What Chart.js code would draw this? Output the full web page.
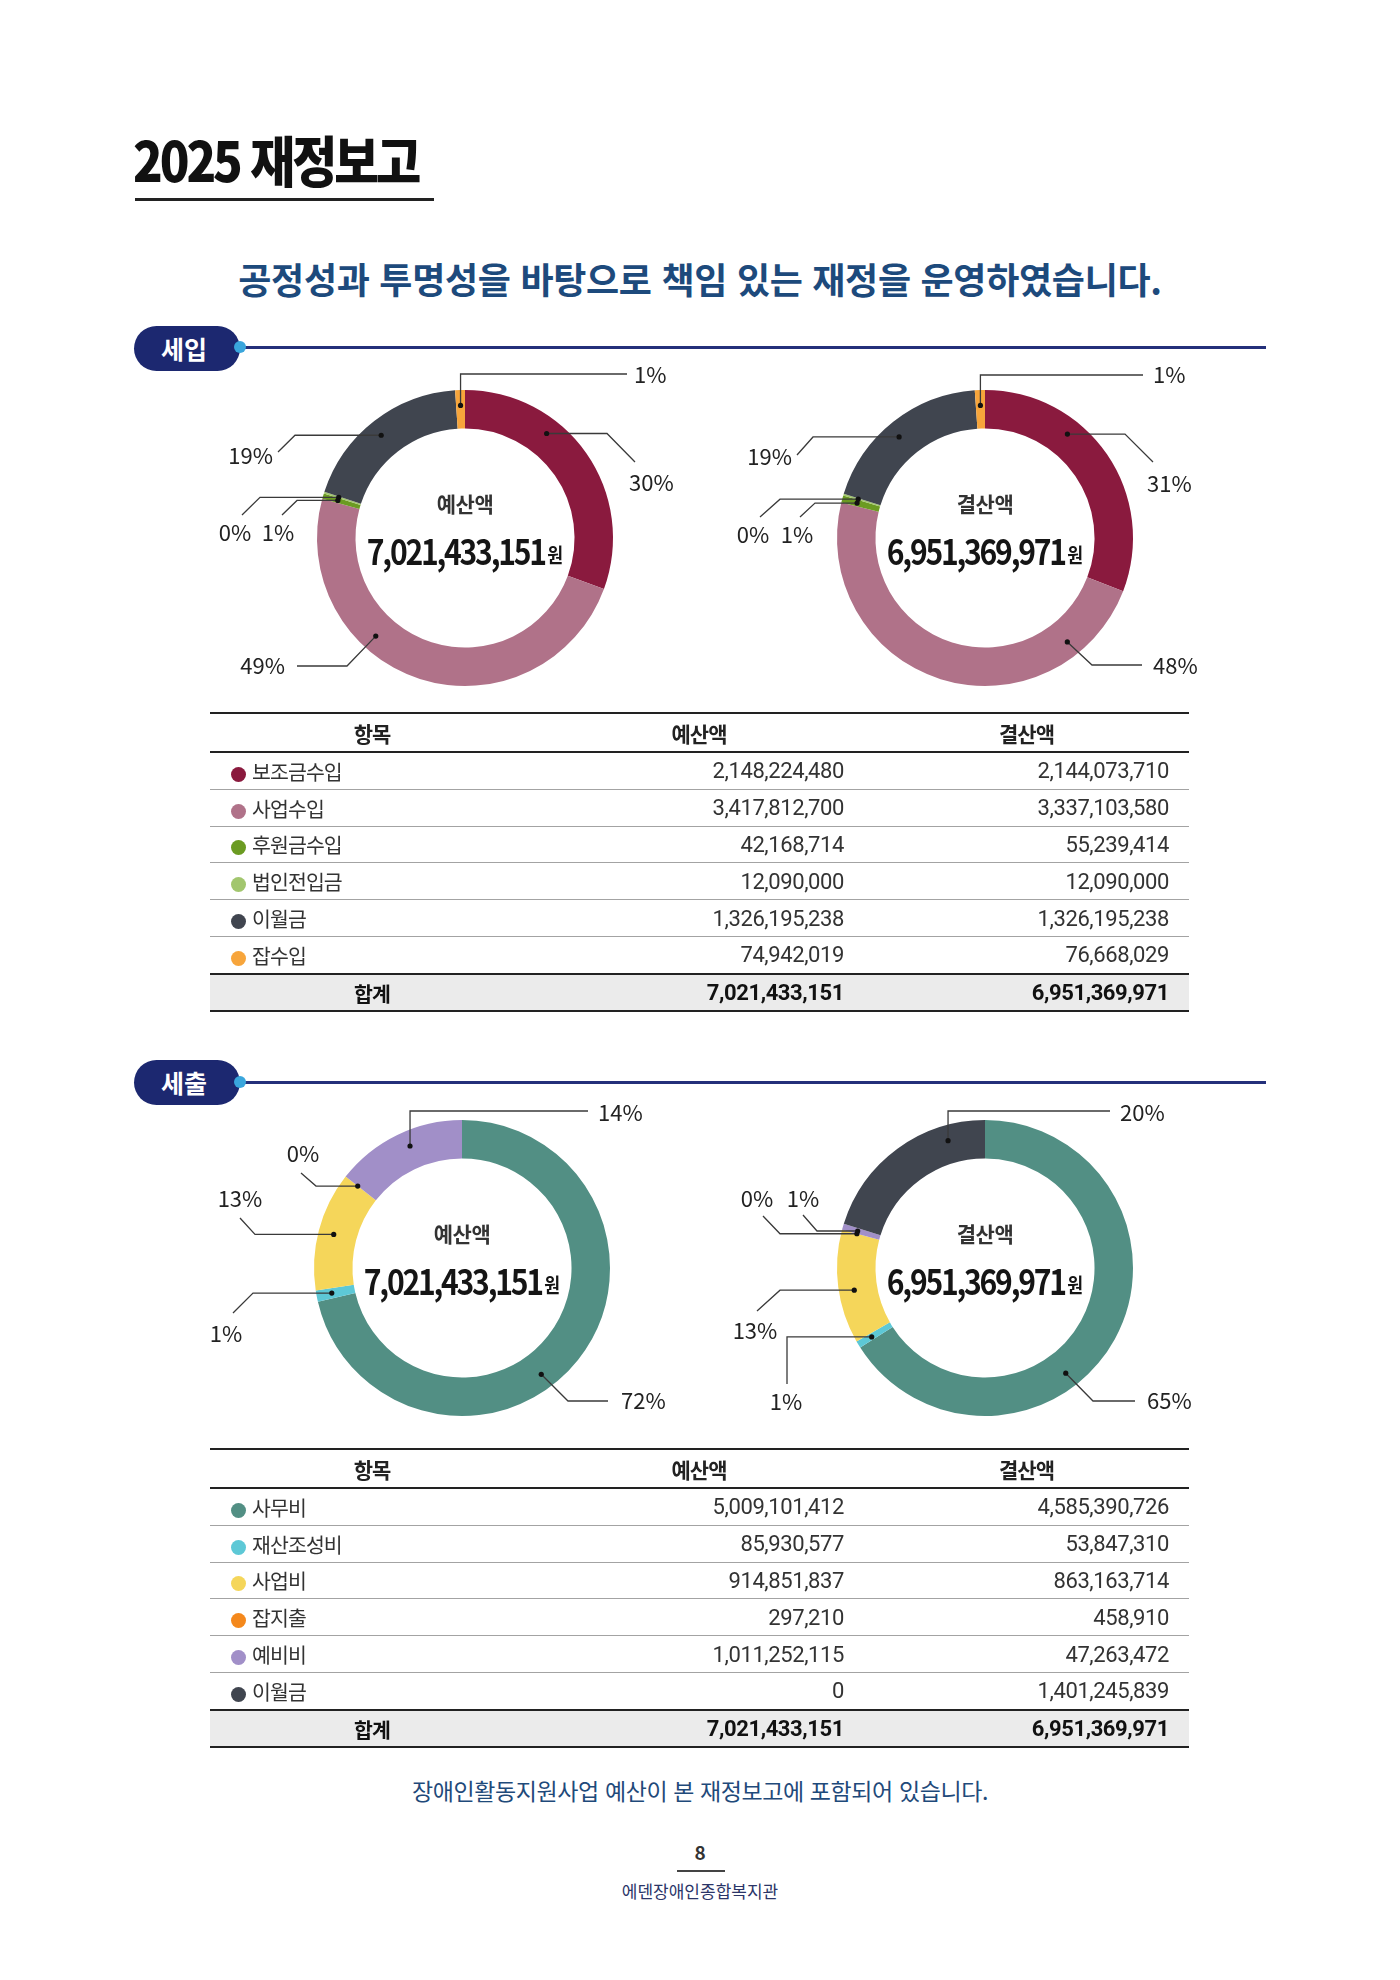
<!DOCTYPE html>
<html lang="ko">
<head>
<meta charset="utf-8">
<title>2025 재정보고</title>
<script src="https://cdn.jsdelivr.net/npm/chart.js@4.4.1/dist/chart.umd.min.js"></script>
<style>
  html, body { margin: 0; padding: 0; background: #fff; }
  #page { position: relative; width: 1400px; height: 1980px; overflow: hidden; font-family: "Noto Sans CJK KR", sans-serif; color: #222; }
  .abs { position: absolute; white-space: nowrap; }
  .title { left: 133px; top: 126px; height: 64px; line-height: 64px; font-size: 55px; font-weight: 900; letter-spacing: -3.5px; color: #111; transform: scaleX(0.89); transform-origin: left center; }
  .title-line { left: 135px; top: 198px; width: 299px; height: 3px; background: #222; }
  .lead { left: 0; width: 1400px; top: 253px; height: 50px; line-height: 50px; text-align: center; font-size: 36px; font-weight: 700; color: #1d4a7c; letter-spacing: -0.3px; }
  .pill { left: 134px; width: 106px; height: 45px; border-radius: 23px; background: #1c2870; color: #fff; font-size: 25px; font-weight: 700; line-height: 45px; text-align: center; text-indent: -6px; }
  .sec-line { left: 240px; width: 1026px; height: 3px; background: #24307a; }
  .sec-dot { width: 12px; height: 12px; border-radius: 50%; background: #3aa6dc; }
  canvas.donut { position: absolute; }
  table.fin { position: absolute; left: 210px; width: 979px; border-collapse: collapse; table-layout: fixed; font-family: Roboto, "Noto Sans CJK KR", sans-serif; color: #333; }
  table.fin th { height: 37px; font-family: "Noto Sans CJK KR", sans-serif; font-size: 21px; font-weight: 700; letter-spacing: -1px; color: #222; border-top: 2.5px solid #222; border-bottom: 2.5px solid #222; padding: 0; }
  table.fin td { height: 35.8px; padding: 0; font-size: 22px; font-weight: 400; letter-spacing: -0.4px; border-bottom: 1.5px solid #a3a3a3; }
  table.fin td.name { padding-left: 21px; font-family: "Noto Sans CJK KR", sans-serif; font-size: 20.5px; letter-spacing: -0.9px; }
  table.fin td.num { text-align: right; padding-right: 20px; }
  table.fin .dot { display: inline-block; width: 15px; height: 15px; border-radius: 50%; vertical-align: -2px; margin-right: 6px; }
  table.fin tr.total td { height: 35.5px; background: #ebebeb; font-weight: 700; color: #111; border-top: 2.5px solid #222; border-bottom: 2.5px solid #222; }
  table.fin tr.total td.name { text-align: center; padding-left: 0; font-weight: 700; }
  .note { left: 0; width: 1400px; top: 1774px; height: 32px; line-height: 32px; text-align: center; font-size: 23px; color: #1f4a7a; letter-spacing: -0.4px; }
  .page-no { left: 0; width: 1400px; top: 1840px; height: 24px; line-height: 24px; text-align: center; font-size: 19px; font-weight: 700; color: #333; }
  .page-line { left: 677px; top: 1870px; width: 48px; height: 1.5px; background: #444; }
  .org { left: 0; width: 1400px; top: 1879px; height: 24px; line-height: 24px; text-align: center; font-size: 17px; color: #2b3568; }
</style>
</head>
<body>
<div id="page">
  <div class="abs title">2025 재정보고</div>
  <div class="abs title-line"></div>
  <div class="abs lead">공정성과 투명성을 바탕으로 책임 있는 재정을 운영하였습니다.</div>

  <div class="abs sec-line" style="top:346px"></div>
  <div class="abs pill" style="top:326px">세입</div>
  <div class="abs sec-dot" style="left:234px; top:341px"></div>

  <canvas class="donut" id="inBudget" width="560" height="380" style="left:185px; top:348px"></canvas>
  <canvas class="donut" id="inSettle" width="560" height="380" style="left:705px; top:348px"></canvas>

  <table class="fin" id="inTable" style="top:712px">
    <colgroup><col style="width:324px"><col style="width:330px"><col style="width:325px"></colgroup>
    <thead><tr><th>항목</th><th>예산액</th><th>결산액</th></tr></thead>
    <tbody></tbody>
  </table>

  <div class="abs sec-line" style="top:1081px"></div>
  <div class="abs pill" style="top:1060px">세출</div>
  <div class="abs sec-dot" style="left:234px; top:1076px"></div>

  <canvas class="donut" id="outBudget" width="560" height="380" style="left:182px; top:1078px"></canvas>
  <canvas class="donut" id="outSettle" width="560" height="380" style="left:705px; top:1078px"></canvas>

  <table class="fin" id="outTable" style="top:1448px">
    <colgroup><col style="width:324px"><col style="width:330px"><col style="width:325px"></colgroup>
    <thead><tr><th>항목</th><th>예산액</th><th>결산액</th></tr></thead>
    <tbody></tbody>
  </table>

  <div class="abs note">장애인활동지원사업 예산이 본 재정보고에 포함되어 있습니다.</div>
  <div class="abs page-no">8</div>
  <div class="abs page-line"></div>
  <div class="abs org">에덴장애인종합복지관</div>
</div>

<script>
// 세입
const incomeLabels = ['보조금수입', '사업수입', '후원금수입', '법인전입금', '이월금', '잡수입'];
const incomeBudget = [2148224480, 3417812700, 42168714, 12090000, 1326195238, 74942019];
const incomeSettle = [2144073710, 3337103580, 55239414, 12090000, 1326195238, 76668029];
const incomeBudgetPct = ['30%', '49%', '1%', '0%', '19%', '1%'];
const incomeSettlePct = ['31%', '48%', '1%', '0%', '19%', '1%'];
const incomeColors = ['#8a1a3e', '#b07289', '#6b9b22', '#a2c66e', '#40454f', '#f7a53b'];

// 세출
const expenseLabels = ['사무비', '재산조성비', '사업비', '잡지출', '예비비', '이월금'];
const expenseBudget = [5009101412, 85930577, 914851837, 297210, 1011252115, 0];
const expenseSettle = [4585390726, 53847310, 863163714, 458910, 47263472, 1401245839];
const expenseBudgetPct = ['72%', '1%', '13%', '0%', '14%', ''];
const expenseSettlePct = ['65%', '1%', '13%', '0%', '1%', '20%'];
const expenseColors = ['#528f84', '#5dc8d6', '#f5d65a', '#f4881c', '#a18fc8', '#40454f'];

// 지시선 배치 (도넛 중심 기준, null = 이전 점과 같은 좌표)
const inBudgetLeaders = [
  { f: 0.345, path: [[142, null], [170, -76]], label: [164, -55], align: 'left' },
  { f: 0.64, path: [[-118, 128], [-168, null]], label: [-180, 128], align: 'right' },
  { f: 0.5, path: [[-168, null], [-183, -23]], label: [-187, -5], align: 'center' },
  { f: 0.5, path: [[-205, null], [-223, -23]], label: [-230, -5], align: 'center' },
  { f: 0.48, path: [[-170, null], [-187, -86]], label: [-192, -82], align: 'right' },
  { f: 0.5, path: [[null, -164], [162, null]], label: [169, -163], align: 'left' }
];
const inSettleLeaders = [
  { f: 0.346, path: [[140, null], [168, -76]], label: [162, -54], align: 'left' },
  { f: 0.177, path: [[107, 127], [157, null]], label: [168, 128], align: 'left' },
  { f: 0.5, path: [[-170, null], [-185, -21]], label: [-188, -3], align: 'center' },
  { f: 0.5, path: [[-205, null], [-225, -21]], label: [-232, -3], align: 'center' },
  { f: 0.47, path: [[-172, null], [-188, -83]], label: [-193, -81], align: 'right' },
  { f: 0.5, path: [[null, -163], [158, null]], label: [168, -163], align: 'left' }
];
const outBudgetLeaders = [
  { f: 0.558, path: [[106, 133], [146, null]], label: [159, 133], align: 'left' },
  { f: 0.52, path: [[-209, null], [-229, 45]], label: [-236, 66], align: 'center' },
  { f: 0.5, path: [[-207, null], [-222, -50]], label: [-222, -69], align: 'center' },
  { f: 0.5, path: [[-146, null], [-161, -95]], label: [-159, -114], align: 'center' },
  { f: 0.555, path: [[null, -157], [126, null]], label: [136, -155], align: 'left' },
  null
];
const outSettleLeaders = [
  { f: 0.6, path: [[108, 133], [150, null]], label: [162, 133], align: 'left' },
  { f: 0.44, path: [[-198, null], [null, 116]], label: [-199, 134], align: 'center' },
  { f: 0.45, path: [[-205, null], [-228, 43]], label: [-230, 63], align: 'center' },
  { f: 0.5, path: [[-205, null], [-222, -52]], label: [-228, -69], align: 'center' },
  { f: 0.5, path: [[-168, null], [-182, -53]], label: [-182, -69], align: 'center' },
  { f: 0.777, path: [[null, -157], [125, null]], label: [135, -155], align: 'left' }
];

const fmt = v => v.toLocaleString('en-US');
const sum = arr => arr.reduce((a, b) => a + b, 0);

function leaderPlugin(pct, specs) {
  return {
    id: 'leaders',
    afterDatasetsDraw(chart) {
      const ctx = chart.ctx;
      chart.getDatasetMeta(0).data.forEach((arc, i) => {
        const s = specs[i];
        if (!s) return;
        const p = arc.getProps(['x', 'y', 'startAngle', 'endAngle', 'innerRadius', 'outerRadius'], true);
        const a = p.startAngle + s.f * (p.endAngle - p.startAngle);
        const r = p.innerRadius + 0.6 * (p.outerRadius - p.innerRadius);
        const dx0 = p.x + r * Math.cos(a), dy0 = p.y + r * Math.sin(a);
        let px = dx0, py = dy0;
        ctx.save();
        ctx.strokeStyle = '#3a3a3a';
        ctx.lineWidth = 1.3;
        ctx.beginPath();
        ctx.moveTo(px, py);
        s.path.forEach(([dx, dy]) => {
          if (dx !== null) px = p.x + dx;
          if (dy !== null) py = p.y + dy;
          ctx.lineTo(px, py);
        });
        ctx.stroke();
        ctx.fillStyle = '#111';
        ctx.beginPath();
        ctx.arc(dx0, dy0, 2.6, 0, Math.PI * 2);
        ctx.fill();
        ctx.font = '400 22px "Noto Sans CJK KR", sans-serif';
        ctx.fillStyle = '#222';
        ctx.textAlign = s.align;
        ctx.textBaseline = 'middle';
        ctx.fillText(pct[i], p.x + s.label[0], p.y + s.label[1]);
        ctx.restore();
      });
    }
  };
}

function centerPlugin(caption, values) {
  return {
    id: 'centerText',
    afterDraw(chart) {
      const ctx = chart.ctx;
      const arc = chart.getDatasetMeta(0).data[0];
      const cx = arc.x, cy = arc.y;
      ctx.save();
      ctx.textBaseline = 'middle';
      ctx.fillStyle = '#333';
      ctx.textAlign = 'center';
      ctx.font = '700 21px "Noto Sans CJK KR", sans-serif';
      ctx.letterSpacing = '-0.5px';
      ctx.fillText(caption, cx, cy - 34);

      // 합계 금액 (좁은 글꼴처럼 가로로 눌러 그림)
      const num = fmt(sum(values));
      ctx.translate(cx, 0);
      ctx.scale(0.86, 1);
      ctx.fillStyle = '#151515';
      ctx.font = '700 35px "Noto Sans CJK KR", sans-serif';
      ctx.letterSpacing = '-2.6px';
      const wNum = ctx.measureText(num).width;
      ctx.font = '700 20px "Noto Sans CJK KR", sans-serif';
      ctx.letterSpacing = '0px';
      const wWon = ctx.measureText('원').width;
      const x0 = -(wNum + wWon + 3) / 2;
      ctx.textAlign = 'left';
      ctx.font = '700 35px "Noto Sans CJK KR", sans-serif';
      ctx.letterSpacing = '-2.6px';
      ctx.fillText(num, x0, cy + 14);
      ctx.font = '700 20px "Noto Sans CJK KR", sans-serif';
      ctx.letterSpacing = '0px';
      ctx.fillText('원', x0 + wNum + 3, cy + 17);
      ctx.restore();
    }
  };
}

function makeDonut(id, labels, values, colors, pct, specs, caption) {
  return new Chart(document.getElementById(id), {
    type: 'doughnut',
    data: {
      labels: labels,
      datasets: [{ data: values, backgroundColor: colors, borderWidth: 0 }]
    },
    options: {
      responsive: false,
      animation: false,
      devicePixelRatio: 1,
      events: [],
      cutout: '74%',
      layout: { padding: { top: 42, bottom: 42, left: 0, right: 0 } },
      plugins: {
        legend: { display: false },
        tooltip: { enabled: false }
      }
    },
    plugins: [leaderPlugin(pct, specs), centerPlugin(caption, values)]
  });
}

function fillTable(id, labels, colors, budget, settle) {
  const tbody = document.querySelector('#' + id + ' tbody');
  labels.forEach((name, i) => {
    const tr = document.createElement('tr');
    tr.innerHTML =
      '<td class="name"><span class="dot" style="background:' + colors[i] + '"></span>' + name + '</td>' +
      '<td class="num">' + fmt(budget[i]) + '</td>' +
      '<td class="num">' + fmt(settle[i]) + '</td>';
    tbody.appendChild(tr);
  });
  const total = document.createElement('tr');
  total.className = 'total';
  total.innerHTML =
    '<td class="name">합계</td>' +
    '<td class="num">' + fmt(sum(budget)) + '</td>' +
    '<td class="num">' + fmt(sum(settle)) + '</td>';
  tbody.appendChild(total);
}

makeDonut('inBudget', incomeLabels, incomeBudget, incomeColors, incomeBudgetPct, inBudgetLeaders, '예산액');
makeDonut('inSettle', incomeLabels, incomeSettle, incomeColors, incomeSettlePct, inSettleLeaders, '결산액');
makeDonut('outBudget', expenseLabels, expenseBudget, expenseColors, expenseBudgetPct, outBudgetLeaders, '예산액');
makeDonut('outSettle', expenseLabels, expenseSettle, expenseColors, expenseSettlePct, outSettleLeaders, '결산액');

fillTable('inTable', incomeLabels, incomeColors, incomeBudget, incomeSettle);
fillTable('outTable', expenseLabels, expenseColors, expenseBudget, expenseSettle);
</script>
</body>
</html>
